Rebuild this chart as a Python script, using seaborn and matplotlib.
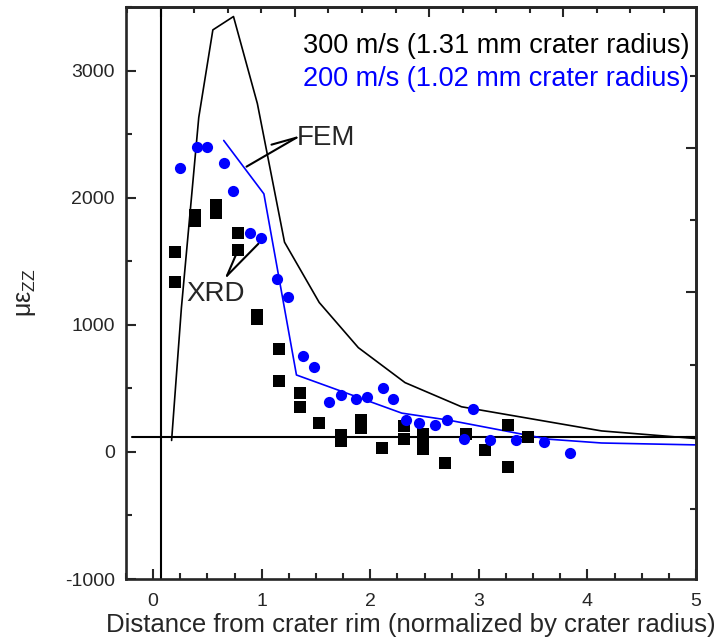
import matplotlib
matplotlib.use("Agg")
import matplotlib.pyplot as plt
from matplotlib.ticker import MultipleLocator
import seaborn as sns
import pandas as pd

# FEM curves (lines)
fem300_x = [0.17, 0.26, 0.42, 0.55, 0.74, 0.96, 1.21, 1.53, 1.89, 2.32, 2.84, 4.13, 5.0]
fem300_y = [90, 1130, 2630, 3320, 3425, 2740, 1650, 1175, 820, 545, 355, 165, 105]
fem200_x = [0.65, 1.02, 1.32, 2.29, 2.72, 3.64, 4.13, 5.0]
fem200_y = [2450, 2030, 605, 305, 250, 100, 70, 55]

# XRD measurements (points)
xrd200_x = [0.25, 0.40, 0.50, 0.65, 0.74, 0.89, 0.99, 1.14, 1.24, 1.38, 1.48, 1.62, 1.73, 1.87,
            1.97, 2.12, 2.21, 2.33, 2.45, 2.60, 2.71, 2.86, 2.95, 3.10, 3.34, 3.60, 3.84]
xrd200_y = [2230, 2395, 2400, 2270, 2055, 1725, 1680, 1360, 1220, 755, 670, 395, 450, 420,
            435, 505, 420, 250, 230, 215, 250, 100, 340, 95, 95, 80, -10]
xrd300_x = [0.20, 0.20, 0.39, 0.39, 0.58, 0.58, 0.78, 0.78, 0.96, 0.96, 1.16, 1.16, 1.35, 1.35,
            1.53, 1.73, 1.73, 1.91, 1.91, 2.11, 2.31, 2.31, 2.49, 2.49, 2.49, 2.69, 2.88, 3.06,
            3.27, 3.27, 3.45]
xrd300_y = [1570, 1340, 1860, 1820, 1940, 1880, 1725, 1585, 1080, 1045, 810, 560, 465, 355,
            230, 135, 85, 250, 190, 30, 200, 100, 140, 100, 25, -85, 140, 15,
            215, -115, 120]

# origin lines and the offset scale of the top/right ticks
x0, y0 = 0.07, 120
top_step, right_step = 1.236, 1134

sns.set_style("ticks")
plt.rcParams["font.family"] = ["Liberation Sans", "DejaVu Sans"]
plt.rcParams["mathtext.fontset"] = "custom"
plt.rcParams["mathtext.it"] = "Liberation Sans:italic"
plt.rcParams["mathtext.rm"] = "Liberation Sans"
plt.rcParams["axes.unicode_minus"] = False

fig = plt.figure(figsize=(7.15, 6.42), dpi=100)
ax = fig.add_axes([126 / 715, 1 - 579 / 642, 570 / 715, 572 / 642])

# reference lines
ax.axhline(y0, xmin=0.01, color="black", lw=1.5)
ax.axvline(x0, color="black", lw=1.5)

sns.lineplot(x=fem300_x, y=fem300_y, color="black", lw=1.2, sort=False, ax=ax)
sns.lineplot(x=fem200_x, y=fem200_y, color="blue", lw=1.2, sort=False, ax=ax)
sns.scatterplot(x=xrd300_x, y=xrd300_y, marker="s", s=65, color="black",
                linewidth=0, ax=ax, zorder=3)
sns.scatterplot(x=xrd200_x, y=xrd200_y, marker="o", s=65, color="blue",
                linewidth=0, ax=ax, zorder=3)

ax.set_xlim(-0.25, 5)
ax.set_ylim(-1000, 3500)
ax.xaxis.set_major_locator(MultipleLocator(1))
ax.xaxis.set_minor_locator(MultipleLocator(0.25))
ax.yaxis.set_major_locator(MultipleLocator(1000))
ax.yaxis.set_minor_locator(MultipleLocator(500))
ax.tick_params(which="both", direction="in", top=False, right=False, width=1.5, labelsize=14)
ax.tick_params(which="major", length=7)
ax.tick_params(which="minor", length=4)
ax.tick_params(axis="x", pad=10)
ax.tick_params(axis="y", pad=8)
for s in ax.spines.values():
    s.set_linewidth(1.9)

# top and right ticks follow their own offset scale
top = ax.secondary_xaxis("top", functions=(lambda x: (x - x0) / top_step,
                                           lambda u: u * top_step + x0))
right = ax.secondary_yaxis("right", functions=(lambda y: (y - y0) / right_step,
                                               lambda v: v * right_step + y0))
top.xaxis.set_major_locator(MultipleLocator(1))
top.xaxis.set_minor_locator(MultipleLocator(0.25))
right.yaxis.set_major_locator(MultipleLocator(1))
right.yaxis.set_minor_locator(MultipleLocator(0.5))
for sec in (top, right):
    sec.tick_params(which="both", direction="in", width=1.5,
                    labeltop=False, labelright=False)
    sec.tick_params(which="major", length=7)
    sec.tick_params(which="minor", length=4)
    for s in sec.spines.values():
        s.set_linewidth(1.9)

ax.set_xlabel("Distance from crater rim (normalized by crater radius)", fontsize=18.5, labelpad=2)
ax.set_ylabel(r"με$_{\mathrm{ZZ}}$", fontsize=18, labelpad=19)

ax.text(4.94, 3190, "300 m/s (1.31 mm crater radius)", fontsize=19.5, color="black",
        ha="right", va="center")
ax.text(4.94, 2930, "200 m/s (1.02 mm crater radius)", fontsize=19.5, color="blue",
        ha="right", va="center")

ax.text(1.32, 2470, "FEM", fontsize=20, va="center")
ax.plot([1.32, 1.09], [2472, 2417], color="black", lw=1.5)
ax.plot([1.32, 0.86], [2472, 2244], color="black", lw=1.5)

ax.text(0.58, 1244, "XRD", fontsize=20, va="center", ha="center")
ax.plot([0.68, 0.775], [1386, 1575], color="black", lw=1.5)
ax.plot([0.68, 0.97], [1386, 1638], color="black", lw=1.5)

fig.savefig("out.png", dpi=100)
